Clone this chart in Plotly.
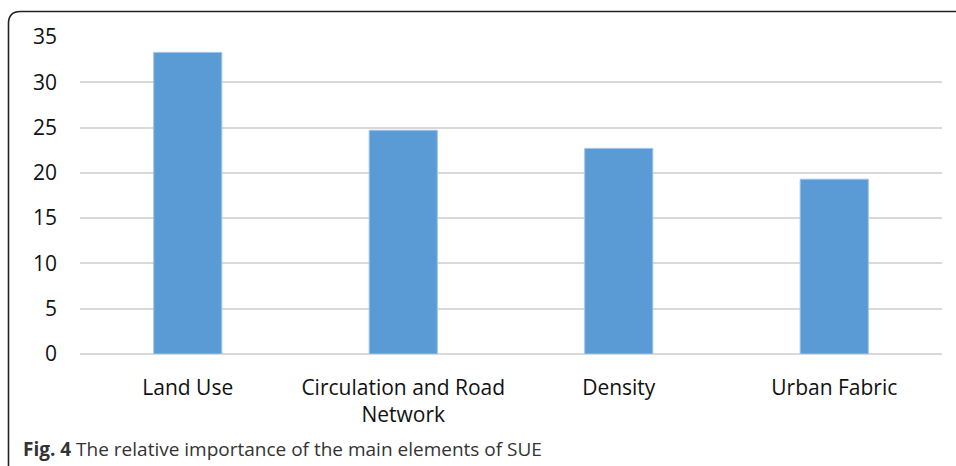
import plotly.graph_objects as go

categories = ["Land Use", "Circulation and Road<br>Network", "Density", "Urban Fabric"]
values = [33.3, 24.7, 22.7, 19.3]
y_ticks = [0, 5, 10, 15, 20, 25, 30, 35]
caption_bold = "Fig. 4"
caption_text = " The relative importance of the main elements of SUE"

W, H = 956, 466
L, R, T, B = 80, 14, 37, 112
pw, ph = W - L - R, H - T - B

def px(x):
    return (x - L) / pw

def py(y):
    return (H - B - y) / ph

fig = go.Figure()
fig.add_trace(go.Bar(
    x=categories, y=values,
    marker=dict(color="#5B9BD5", line=dict(color="#9DC3E6", width=1)),
    width=0.316, hoverinfo="skip",
))

# frame with rounded top-left corner
x0, y0, r = 8.5, 11.5, 12
path = (f"M {px(x0)} {py(H + 5)} L {px(x0)} {py(y0 + r)} "
        f"Q {px(x0)} {py(y0)} {px(x0 + r)} {py(y0)} L {px(W + 5)} {py(y0)}")
fig.add_shape(type="path", path=path, xref="paper", yref="paper",
              line=dict(color="#222222", width=1.6))

fig.add_annotation(
    text=f"<b>{caption_bold}</b>{caption_text}",
    xref="paper", yref="paper", x=px(21), y=py(449), xanchor="left", yanchor="middle",
    showarrow=False, font=dict(family="Open Sans", size=19, color="#333333"),
)

fig.update_layout(
    width=W, height=H,
    margin=dict(l=L, r=R, t=T, b=B),
    paper_bgcolor="white", plot_bgcolor="white",
    showlegend=False,
    font=dict(family="Open Sans", size=21, color="#111111"),
    xaxis=dict(showline=False, ticks="", ticklabelstandoff=19, showgrid=False),
    yaxis=dict(range=[0, 35], tickvals=y_ticks, showgrid=True, gridcolor="#D9D9D9",
               gridwidth=1.5, zeroline=True, zerolinecolor="#D9D9D9", zerolinewidth=1.5,
               ticks="", ticklabelstandoff=22, showline=False),
)

fig.write_html("out.html", config={"displayModeBar": False},
               post_script="document.body.style.margin='0';document.body.style.overflow='hidden';")
